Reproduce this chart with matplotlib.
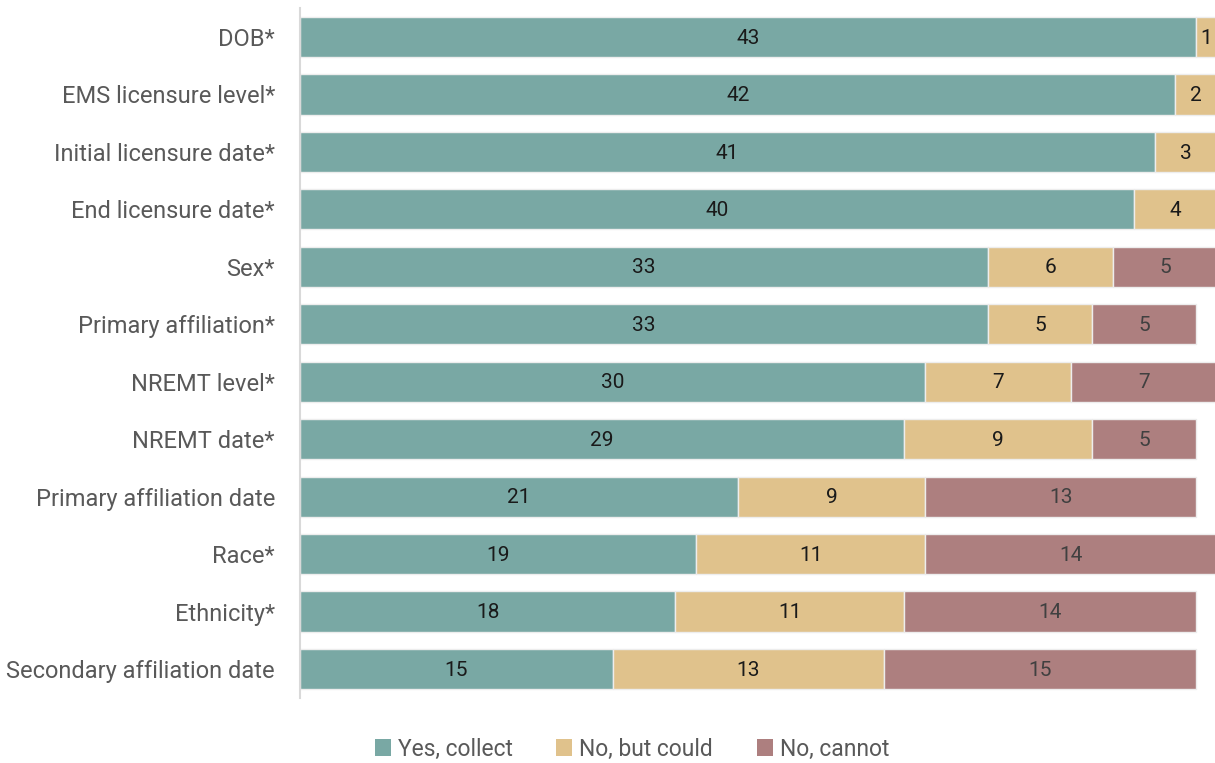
import matplotlib
matplotlib.use("Agg")
import matplotlib.pyplot as plt
from matplotlib.patches import Patch

categories = ["DOB*", "EMS licensure level*", "Initial licensure date*", "End licensure date*",
              "Sex*", "Primary affiliation*", "NREMT level*", "NREMT date*",
              "Primary affiliation date", "Race*", "Ethnicity*", "Secondary affiliation date"]
yes_collect = [43, 42, 41, 40, 33, 33, 30, 29, 21, 19, 18, 15]
no_could = [1, 2, 3, 4, 6, 5, 7, 9, 9, 11, 11, 13]
no_cannot = [0, 0, 0, 0, 5, 5, 7, 5, 13, 14, 14, 15]
series_names = ["Yes, collect", "No, but could", "No, cannot"]
colors = ["#79A8A4", "#E0C28C", "#AD7F7F"]
text_colors = ["#1a1a1a", "#1a1a1a", "#404040"]

plt.rcParams['font.family'] = ['Roboto', 'DejaVu Sans']

fig = plt.figure(figsize=(12.15, 7.63), dpi=100)
ax = fig.add_axes([300/1215, 65.3/763, 915/1215, (697.7-8.3)/763])

ypos = list(range(len(categories)))
left = [0]*len(categories)
for vals, col, tc in zip([yes_collect, no_could, no_cannot], colors, text_colors):
    bars = ax.barh(ypos, vals, left=left, height=0.7, color=col, edgecolor="#EDEDED", linewidth=1)
    for b, v, l in zip(bars, vals, left):
        if v > 0:
            ax.text(l + v/2, b.get_y() + b.get_height()/2 + 0.02, str(v), ha="center", va="center",
                    fontsize=15, color=tc)
    left = [a + b for a, b in zip(left, vals)]

ax.set_xlim(0, 43.9)
ax.set_ylim(len(categories) - 0.5, -0.5)
ax.set_yticks(ypos)
ax.set_yticklabels(categories, fontsize=17, color="#595959")
ax.tick_params(axis="y", length=0, pad=18)
ax.set_xticks([])
for s in ["top", "right", "bottom"]:
    ax.spines[s].set_visible(False)
ax.spines["left"].set_color("#D9D9D9")
ax.spines["left"].set_linewidth(1.5)

handles = [Patch(facecolor=c, edgecolor="none") for c in colors]
fig.legend(handles, series_names, loc="center", bbox_to_anchor=(632/1215, 1 - 749/763), ncol=3,
           frameon=False, fontsize=16.5, labelcolor="#595959", handlelength=0.7, handleheight=0.7,
           handletextpad=0.3, columnspacing=1.9)

fig.savefig("out.png", dpi=100)
